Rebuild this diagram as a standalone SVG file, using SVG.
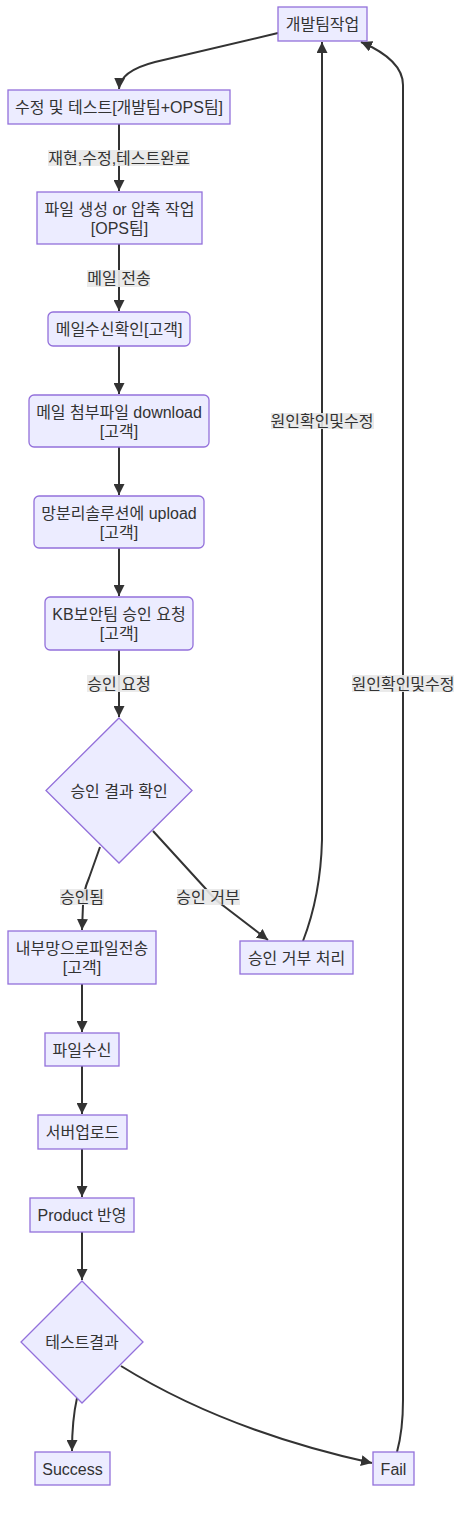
<svg xmlns="http://www.w3.org/2000/svg" width="471" height="1516" viewBox="0 0 471 1516">
<style>
.n{fill:#ECECFF;stroke:#9370DB;stroke-width:1.3px}
.t{font-family:"Liberation Sans","Noto Sans CJK KR",sans-serif;font-size:16px;fill:#333;text-anchor:middle}
.e{fill:none;stroke:#333;stroke-width:2px;marker-end:url(#arr)}
.lb{fill:#e8e8e8;opacity:0.9}
</style>
<defs>
<marker id="arr" viewBox="0 0 10 10" refX="10" refY="5" markerUnits="userSpaceOnUse" markerWidth="11" markerHeight="11" orient="auto">
<path d="M0,0 L10,5 L0,10 z" fill="#333"/>
</marker>
</defs>
<rect width="471" height="1516" fill="#fff"/>
<g id="connectors">
<path class="e" d="M278,33 L155,62 Q120,71 119,89"/>
<path class="e" d="M119,124 L119,191"/>
<path class="e" d="M119,244 L119,311"/>
<path class="e" d="M119,346 L119,394"/>
<path class="e" d="M119,447 L119,495"/>
<path class="e" d="M119,548 L119,596"/>
<path class="e" d="M119,650 L119,717"/>
<path class="e" d="M100,847 L89,878 Q83,892 83,905 L82,930"/>
<path class="e" d="M153,831 L205,888 Q215,900 225,907 L268,940"/>
<path class="e" d="M303,941 C315,910 321,880 322,840 L322,42"/>
<path class="e" d="M397,1452 Q403,1430 403,1400 L403,85 Q403,60 361,42"/>
<path class="e" d="M82,984 L82,1032"/>
<path class="e" d="M82,1066 L82,1114"/>
<path class="e" d="M82,1149 L82,1197"/>
<path class="e" d="M82,1232 L82,1280"/>
<path class="e" d="M77,1398 Q72,1420 72,1451"/>
<path class="e" d="M121,1366 C200,1415 290,1445 372,1463"/>
<rect class="lb" x="48" y="150" width="142" height="16"/>
<text class="t" x="119" y="163.5">재현,수정,테스트완료</text>
<rect class="lb" x="87" y="270" width="63" height="17"/>
<text class="t" x="119" y="284">메일 전송</text>
<rect class="lb" x="87" y="675" width="63" height="17"/>
<text class="t" x="119" y="689.5">승인 요청</text>
<rect class="lb" x="60" y="889" width="44" height="16"/>
<text class="t" x="82" y="902.5">승인됨</text>
<rect class="lb" x="177" y="889" width="63" height="16"/>
<text class="t" x="208" y="902.5">승인 거부</text>
<rect class="lb" x="271" y="413" width="103" height="16"/>
<text class="t" x="322" y="426.5">원인확인및수정</text>
<rect class="lb" x="352" y="675" width="102" height="17"/>
<text class="t" x="403" y="689.5">원인확인및수정</text>
</g>
<g id="dev"><rect class="n" x="278" y="7" width="89" height="34"/><text class="t" x="322.5" y="30">개발팀작업</text></g>
<g id="fix"><rect class="n" x="8" y="90" width="222" height="34"/><text class="t" x="119" y="113">수정 및 테스트[개발팀+OPS팀]</text></g>
<g id="file"><rect class="n" x="37" y="192" width="165" height="52"/><text class="t" x="119.5" y="214.5">파일 생성 or 압축 작업</text><text class="t" x="119.5" y="233.5">[OPS팀]</text></g>
<g id="mailrecv"><rect class="n" x="48" y="312" width="142" height="34" rx="5"/><text class="t" x="119" y="335">메일수신확인[고객]</text></g>
<g id="download"><rect class="n" x="29" y="395" width="180" height="52" rx="5"/><text class="t" x="119" y="417.5">메일 첨부파일 download</text><text class="t" x="119" y="436.5">[고객]</text></g>
<g id="upload"><rect class="n" x="34" y="496" width="170" height="52" rx="5"/><text class="t" x="119" y="518.5">망분리솔루션에 upload</text><text class="t" x="119" y="537.5">[고객]</text></g>
<g id="kb"><rect class="n" x="45" y="597" width="148" height="53" rx="5"/><text class="t" x="119" y="619.5">KB보안팀 승인 요청</text><text class="t" x="119" y="638.5">[고객]</text></g>
<g id="approve"><polygon class="n" points="119,718 192,790.5 119,863 46,790.5"/><text class="t" x="119" y="796.5">승인 결과 확인</text></g>
<g id="internal"><rect class="n" x="8" y="931" width="148" height="53"/><text class="t" x="82" y="953.5">내부망으로파일전송</text><text class="t" x="82" y="972.5">[고객]</text></g>
<g id="reject"><rect class="n" x="240" y="941" width="113" height="33"/><text class="t" x="296.5" y="963.5">승인 거부 처리</text></g>
<g id="recv"><rect class="n" x="45" y="1033" width="74" height="33"/><text class="t" x="82" y="1055.5">파일수신</text></g>
<g id="server"><rect class="n" x="38" y="1115" width="89" height="34"/><text class="t" x="82.5" y="1138">서버업로드</text></g>
<g id="product"><rect class="n" x="30" y="1198" width="104" height="34"/><text class="t" x="82" y="1221">Product 반영</text></g>
<g id="testresult"><polygon class="n" points="82,1281 143,1342 82,1403 21,1342"/><text class="t" x="82" y="1348">테스트결과</text></g>
<g id="success"><rect class="n" x="35" y="1452" width="75" height="33"/><text class="t" x="72.5" y="1474.5">Success</text></g>
<g id="fail"><rect class="n" x="373" y="1452" width="41" height="33"/><text class="t" x="393.5" y="1474.5">Fail</text></g>
</svg>
